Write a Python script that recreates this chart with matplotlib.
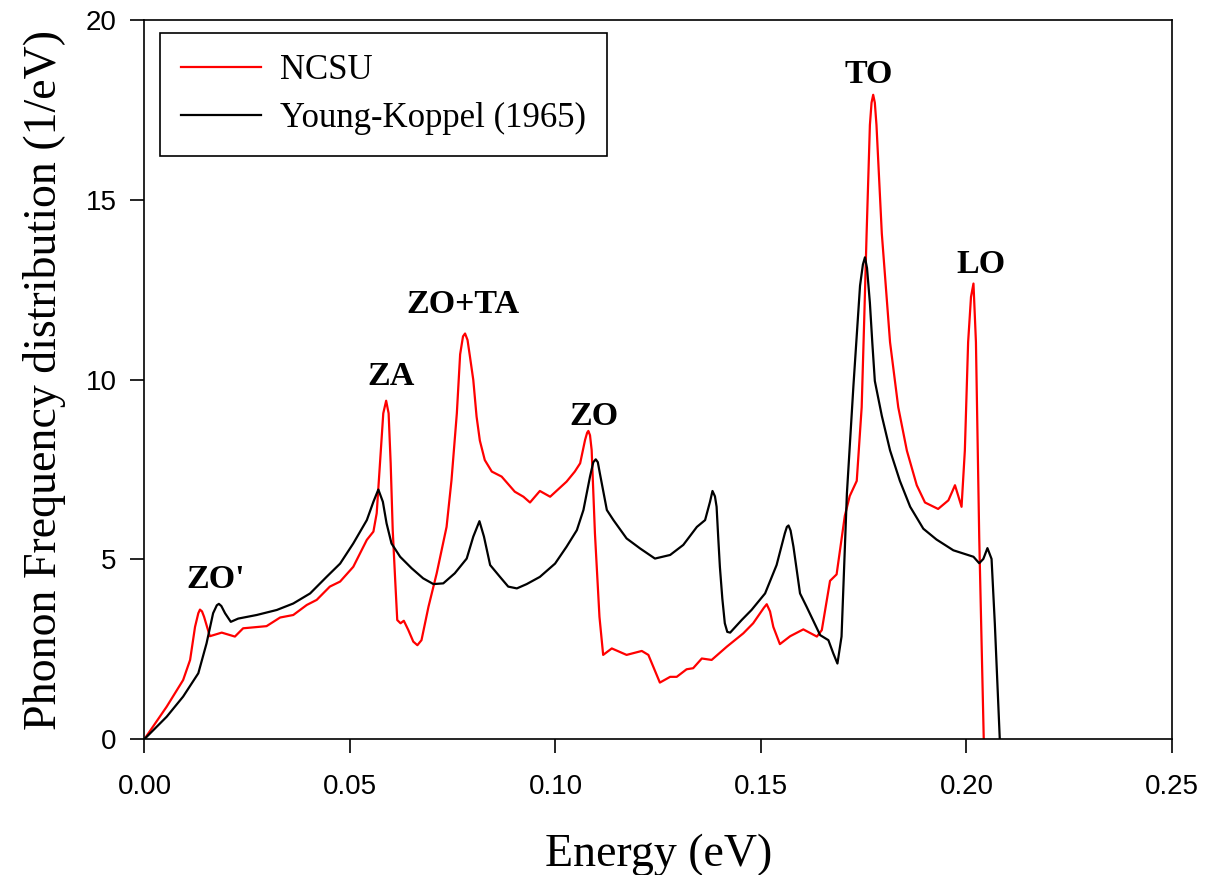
import numpy as np
import matplotlib
matplotlib.use("Agg")
import matplotlib.pyplot as plt

# NCSU phonon frequency distribution
ncsu_e = [0.0, 0.0054, 0.0094, 0.0111, 0.0123, 0.0131, 0.0135, 0.0140, 0.0145, 0.0159,
          0.0188, 0.0220, 0.0240, 0.0297, 0.0330, 0.0362, 0.0395, 0.0419, 0.0451, 0.0476,
          0.0508, 0.0541, 0.0557, 0.0565, 0.0573, 0.0581, 0.0588, 0.0594, 0.0599, 0.0604,
          0.0610, 0.0615, 0.0623, 0.0631, 0.0642, 0.0654, 0.0664, 0.0674, 0.0691, 0.0711,
          0.0735, 0.0747, 0.0760, 0.0768, 0.0775, 0.0780, 0.0786, 0.0792, 0.0800, 0.0808,
          0.0816, 0.0828, 0.0845, 0.0869, 0.0901, 0.0922, 0.0938, 0.0962, 0.0987, 0.1027,
          0.1047, 0.1060, 0.1072, 0.1077, 0.1080, 0.1084, 0.1088, 0.1096, 0.1107, 0.1116,
          0.1137, 0.1173, 0.1210, 0.1226, 0.1254, 0.1279, 0.1295, 0.1319, 0.1335, 0.1356,
          0.1380, 0.1417, 0.1457, 0.1481, 0.1507, 0.1514, 0.1522, 0.1530, 0.1546, 0.1571,
          0.1603, 0.1636, 0.1648, 0.1668, 0.1684, 0.1704, 0.1716, 0.1733, 0.1745, 0.1751,
          0.1757, 0.1765, 0.1769, 0.1773, 0.1777, 0.1781, 0.1794, 0.1814, 0.1834, 0.1855,
          0.1879, 0.1899, 0.1931, 0.1956, 0.1966, 0.1972, 0.1979, 0.1988, 0.1996, 0.2004,
          0.2011, 0.2017, 0.2023, 0.2031, 0.2042]
ncsu_g = [0.0, 0.90, 1.64, 2.20, 3.12, 3.50, 3.60, 3.55, 3.40, 2.86,
          2.96, 2.85, 3.08, 3.14, 3.38, 3.45, 3.73, 3.87, 4.24, 4.38,
          4.79, 5.54, 5.77, 6.28, 7.67, 9.06, 9.41, 9.06, 7.67, 5.81,
          4.42, 3.31, 3.22, 3.29, 3.03, 2.71, 2.61, 2.75, 3.68, 4.61,
          5.90, 7.20, 9.06, 10.70, 11.20, 11.28, 11.10, 10.63, 9.99, 8.97,
          8.30, 7.76, 7.44, 7.30, 6.88, 6.74, 6.58, 6.90, 6.74, 7.16,
          7.44, 7.67, 8.32, 8.52, 8.57, 8.45, 8.04, 5.72, 3.40, 2.34,
          2.52, 2.34, 2.45, 2.34, 1.57, 1.73, 1.73, 1.94, 1.97, 2.24,
          2.20, 2.57, 2.94, 3.22, 3.65, 3.75, 3.55, 3.12, 2.64, 2.86,
          3.05, 2.85, 3.03, 4.40, 4.58, 6.21, 6.76, 7.18, 9.23, 11.60,
          14.06, 17.08, 17.70, 17.92, 17.70, 17.08, 14.06, 11.04, 9.23, 8.02,
          7.06, 6.58, 6.40, 6.64, 6.90, 7.06, 6.80, 6.46, 8.02, 11.04,
          12.30, 12.67, 11.04, 5.61, 0.0]

# Young-Koppel (1965)
yk_e = [0.0, 0.0054, 0.0094, 0.0131, 0.0151, 0.0167, 0.0176, 0.0181, 0.0187, 0.0196,
        0.0210, 0.0228, 0.0273, 0.0322, 0.0362, 0.0403, 0.0443, 0.0476, 0.0508, 0.0541,
        0.0557, 0.0569, 0.0580, 0.0589, 0.0601, 0.0622, 0.0650, 0.0678, 0.0703, 0.0727,
        0.0755, 0.0784, 0.0800, 0.0815, 0.0826, 0.0841, 0.0865, 0.0885, 0.0906, 0.0930,
        0.0962, 0.0999, 0.1027, 0.1052, 0.1068, 0.1084, 0.1092, 0.1098, 0.1103, 0.1108,
        0.1125, 0.1141, 0.1173, 0.1206, 0.1242, 0.1279, 0.1311, 0.1344, 0.1364, 0.1376,
        0.1382, 0.1388, 0.1392, 0.1396, 0.1400, 0.1406, 0.1412, 0.1418, 0.1425, 0.1453,
        0.1477, 0.1510, 0.1538, 0.1558, 0.1563, 0.1567, 0.1572, 0.1579, 0.1595, 0.1611,
        0.1644, 0.1664, 0.1676, 0.1686, 0.1696, 0.1709, 0.1725, 0.1741, 0.1748, 0.1753,
        0.1758, 0.1765, 0.1771, 0.1777, 0.1794, 0.1814, 0.1838, 0.1863, 0.1895, 0.1927,
        0.1968, 0.2017, 0.2031, 0.2041, 0.2051, 0.2061, 0.2069, 0.2081]
yk_g = [0.0, 0.62, 1.18, 1.83, 2.66, 3.50, 3.72, 3.76, 3.70, 3.50,
        3.26, 3.35, 3.45, 3.59, 3.77, 4.05, 4.51, 4.88, 5.44, 6.09,
        6.60, 6.94, 6.60, 6.00, 5.44, 5.07, 4.75, 4.47, 4.31, 4.33,
        4.61, 5.02, 5.63, 6.06, 5.63, 4.84, 4.51, 4.24, 4.19, 4.31,
        4.51, 4.88, 5.35, 5.81, 6.37, 7.30, 7.70, 7.78, 7.70, 7.39,
        6.37, 6.09, 5.58, 5.30, 5.02, 5.12, 5.40, 5.90, 6.09, 6.60,
        6.90, 6.75, 6.46, 5.60, 4.79, 3.90, 3.22, 2.98, 2.96, 3.31,
        3.59, 4.05, 4.84, 5.72, 5.90, 5.94, 5.80, 5.35, 4.05, 3.68,
        2.89, 2.75, 2.38, 2.10, 2.85, 6.82, 9.84, 12.61, 13.20, 13.40,
        13.10, 12.13, 11.00, 9.96, 8.99, 8.03, 7.18, 6.46, 5.85, 5.55,
        5.25, 5.07, 4.89, 5.01, 5.31, 5.01, 3.20, 0.0]

peak_labels = ["ZO'", "ZA", "ZO+TA", "ZO", "TO", "LO"]
peak_e = [0.0174, 0.0600, 0.0775, 0.1094, 0.1763, 0.2035]
peak_g = [4.20, 9.85, 11.85, 8.73, 18.25, 12.95]

serif = ["Liberation Serif", "DejaVu Serif"]
sans = ["Liberation Sans", "DejaVu Sans"]

fig = plt.figure(figsize=(12.05, 8.75), dpi=100)
ax = fig.add_axes([0.1199, 0.1554, 0.8527, 0.8217])

ax.plot(ncsu_e, ncsu_g, color="#ff0000", lw=1.6, label="NCSU",
        solid_joinstyle="round")
ax.plot(yk_e, yk_g, color="black", lw=1.6, label="Young-Koppel (1965)",
        solid_joinstyle="round")

for lab, xe, yg in zip(peak_labels, peak_e, peak_g):
    ax.text(xe, yg, lab, ha="center", va="baseline", fontsize=24.5,
            fontweight="bold", family=serif)

ax.set_xlim(0, 0.25)
ax.set_ylim(0, 20)
ax.set_xticks([0.0, 0.05, 0.10, 0.15, 0.20, 0.25])
ax.set_xticklabels(["0.00", "0.05", "0.10", "0.15", "0.20", "0.25"])
ax.set_yticks([0, 5, 10, 15, 20])
ax.tick_params(direction="out", length=10, width=1.2, labelsize=20)
ax.tick_params(axis="x", pad=15)
ax.tick_params(axis="y", pad=10)
for t in ax.get_xticklabels() + ax.get_yticklabels():
    t.set_family(sans)
for s in ax.spines.values():
    s.set_linewidth(1.2)

ax.set_xlabel("Energy (eV)", fontsize=33, family=serif, labelpad=24)
ax.set_ylabel("Phonon Frequency distribution (1/eV)", fontsize=33, family=serif, labelpad=14)

leg = ax.legend(loc="upper left", bbox_to_anchor=(0.015, 0.982), borderaxespad=0,
                fancybox=False, edgecolor="black", framealpha=1,
                prop={"family": serif, "size": 25}, handlelength=2.3,
                handletextpad=0.55, borderpad=0.6, labelspacing=0.45)
leg.get_frame().set_linewidth(1.2)

fig.savefig("out.png", dpi=100)
